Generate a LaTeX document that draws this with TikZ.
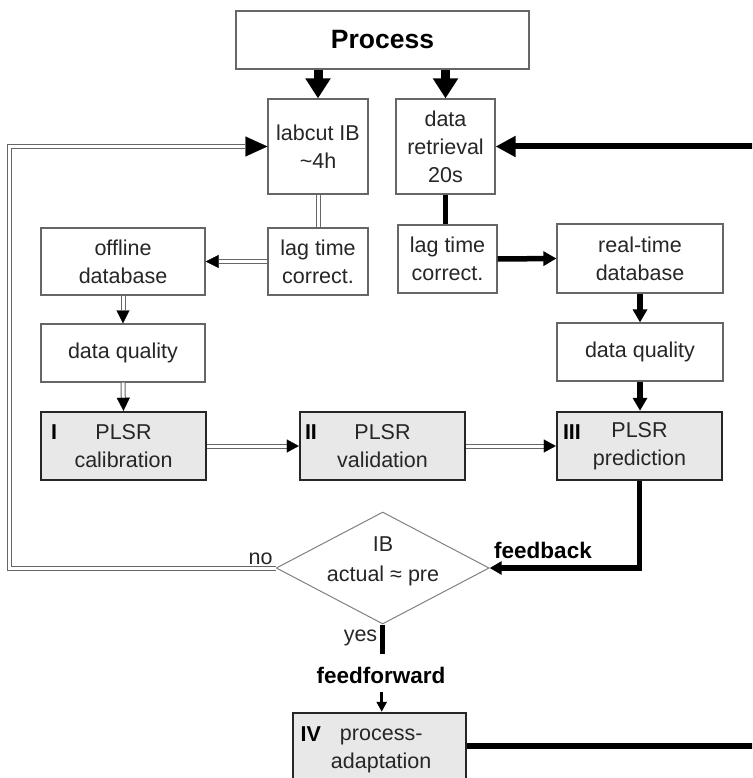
\documentclass[tikz,border=0pt]{standalone}
\usepackage{fontspec}
\setmainfont{Liberation Sans}
\usetikzlibrary{arrows.meta,shapes.geometric,calc}
\newcommand\dblarr[3]{%
  \draw[dbl, shorten >=#1] #3;
  \draw[white, line width=.2pt, -{Triangle[length=#1,width=#2,color=black]}] #3;}
\begin{document}
\begin{tikzpicture}[x=1pt,y=-1pt,
  txt/.style={font=\fontsize{21.5}{28}\selectfont, text=black!85, align=center},
  btxt/.style={font=\bfseries\fontsize{21.5}{28}\selectfont, text=black, inner sep=0pt},
  lbl/.style={font=\bfseries\fontsize{22.5}{28}\selectfont, text=black, inner sep=0pt},
  wbox/.style={txt, draw=black!60, line width=1.2pt, fill=white, inner sep=0pt},
  gbox/.style={txt, draw=black!85, line width=2.4pt, fill=black!9, inner sep=0pt},
  thk/.style={line width=5.5pt, black},
  dbl/.style={draw=black!60, line width=1pt, double=white, double distance=3pt}]
\useasboundingbox (0,0) rectangle (752,778);
\clip (0,0) rectangle (752,778);
% nodes
\node[wbox, minimum width=293pt, minimum height=58pt, font=\bfseries\fontsize{26.5}{30}\selectfont, text=black] (proc) at (382.5,40) {Process};
\node[wbox, minimum width=100pt, minimum height=95pt] (lab) at (318,146.5) {labcut IB\\\textasciitilde{}4h};
\node[wbox, minimum width=99pt, minimum height=95pt] (dr) at (445.5,146.5) {data\\retrieval\\20s};
\node[wbox, minimum width=100pt, minimum height=67pt] (lagL) at (318,261.5) {lag time\\correct.};
\node[wbox, minimum width=164pt, minimum height=67pt] (off) at (123,261.5) {offline\\database};
\node[wbox, minimum width=99pt, minimum height=68pt] (lagR) at (447.5,259) {lag time\\correct.};
\node[wbox, minimum width=166pt, minimum height=69pt] (rt) at (640,258.5) {real-time\\database};
\node[wbox, minimum width=164pt, minimum height=58pt] (dqL) at (123,353) {data quality};
\node[wbox, minimum width=166pt, minimum height=58pt] (dqR) at (640,352) {data quality};
\node[gbox, minimum width=165pt, minimum height=68pt] (c1) at (123.5,446) {PLSR\\calibration};
\node[gbox, minimum width=165pt, minimum height=68pt] (c2) at (382.5,446) {PLSR\\validation};
\node[gbox, minimum width=165pt, minimum height=68pt] (c3) at (639.5,446) {PLSR\\prediction};
\node[gbox, minimum width=173pt, minimum height=76pt] (c4) at (379.2,751) {\hspace*{4pt}process-\\\hspace*{4pt}adaptation};
\node[btxt, anchor=west] (n1) at ($(c1.north west)+(11,21)$) {I};
\node[btxt, anchor=west] (n2) at ($(c2.north west)+(6,21)$) {II};
\node[btxt, anchor=west] (n3) at ($(c3.north west)+(7,21)$) {III};
\node[btxt, anchor=west] (n4) at ($(c4.north west)+(9,22)$) {IV};
\node[diamond, draw=black!50, line width=1pt, minimum width=213pt, minimum height=112pt, inner sep=0pt] (dia) at (382.7,568) {};
\node[txt, anchor=base] (ib) at (383,551) {IB};
\node[txt, anchor=base] (act) at (383,581) {actual ≈ pre};
\node[txt, anchor=base, inner sep=0pt] (no) at (260.5,564) {no};
\node[txt, anchor=base, inner sep=0pt] (yes) at (360.5,641) {yes};
\node[lbl, anchor=base] (fb) at (543,558) {feedback};
\node[lbl, anchor=base] (ff) at (381,683) {feedforward};
\coordinate (lx) at (9.5,0);
\coordinate (rin) at (760,146.5);
\coordinate (rout) at (760,746);
\coordinate (yend) at (382.7,654);
\coordinate (ffs) at (381.7,692);
% thick connectors
\draw[black, line width=9pt, -{Triangle[length=20pt,width=24pt]}] (proc.south -| lab.north) -- (lab.north);
\draw[black, line width=9pt, -{Triangle[length=20pt,width=24pt]}] (proc.south -| dr.north) -- (dr.north);
\draw[thk, line width=6pt, -{Triangle[length=20pt,width=20pt]}] (rin) -- (dr.east);
\draw[thk] (dr.south) -- (dr.south |- lagR.north);
\draw[thk, -{Triangle[length=13pt,width=14pt]}] (lagR.east) -- (rt.west);
\draw[thk, -{Triangle[length=13pt,width=14pt]}] (rt.south) -- (dqR.north);
\draw[thk, -{Triangle[length=13pt,width=14pt]}] (dqR.south) -- (dqR.south |- c3.north);
\draw[thk, -{Triangle[length=12pt,width=13pt]}] (c3.south) |- (dia.east);
\draw[thk, line width=5pt] (dia.south) -- (yend);
\draw[black, line width=2.6pt, -{Triangle[length=10pt,width=10pt]}] (ffs) -- (ffs |- c4.north);
\draw[thk] (rout -| c4.east) -- (rout);
% double connectors
\draw[dbl] (lab.south) -- (lagL.north);
\dblarr{13pt}{13pt}{(lagL.west) -- (off.east)}
\dblarr{13pt}{13pt}{(off.south) -- (dqL.north)}
\dblarr{13pt}{13pt}{(dqL.south) -- (c1.north)}
\dblarr{12pt}{13pt}{(c1.east) -- (c2.west)}
\dblarr{12pt}{13pt}{(c2.east) -- (c3.west)}
\dblarr{22pt}{20pt}{(dia.west) -| (lx |- lab.west) -- (lab.west)}
\end{tikzpicture}
\end{document}
